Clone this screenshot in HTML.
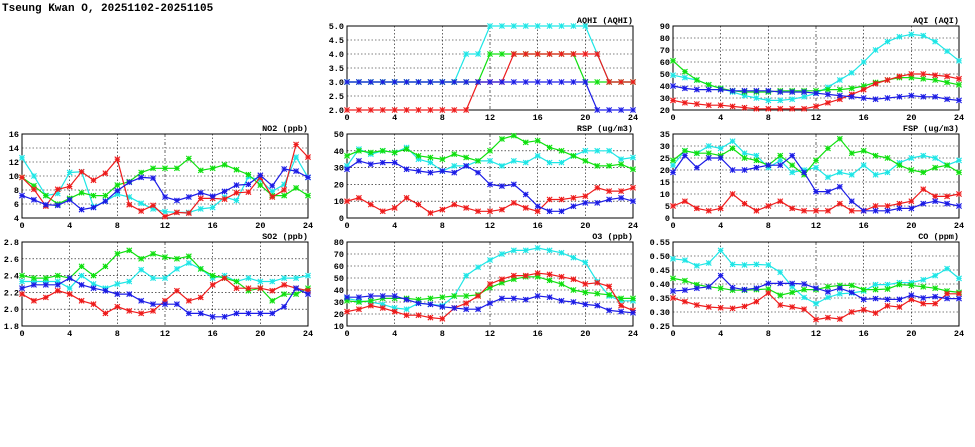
<!DOCTYPE html>
<html><head><meta charset="utf-8"><style>
html,body{margin:0;padding:0;background:#fff;width:975px;height:447px;overflow:hidden}
svg text{font-family:"Liberation Mono","DejaVu Sans Mono",monospace;font-weight:bold;fill:#000}
</style></head><body>
<svg id="s" width="975" height="447" xmlns="http://www.w3.org/2000/svg">
<text x="2" y="11" font-size="11">Tseung Kwan O, 20251102-20251105</text>
</svg>
<script>
const C={c:"#1ee6e6",g:"#10e010",r:"#ee1c1c",b:"#1c1ce6"};
const P=[
{t:"AQHI (AQHI)",x:347,y:26,min:2,max:5,step:.5,dec:1,d:{
c:[3,3,3,3,3,3,3,3,3,3,4,4,5,5,5,5,5,5,5,5,5,4,3,3,3],
g:[3,3,3,3,3,3,3,3,3,3,3,3,4,4,4,4,4,4,4,4,3,3,3,3,3],
r:[2,2,2,2,2,2,2,2,2,2,2,3,3,3,4,4,4,4,4,4,4,4,3,3,3],
b:[3,3,3,3,3,3,3,3,3,3,3,3,3,3,3,3,3,3,3,3,3,2,2,2,2]}},
{t:"AQI (AQI)",x:673,y:26,min:20,max:90,step:10,dec:0,d:{
c:[49,47,45,41,38,35,32,30,28,28,29,31,34,39,45,51,60,70,77,81,83,82,77,69,61],
g:[61,52,45,41,38,36,35,35,35,36,36,36,36,37,37,38,40,43,45,47,47,46,45,43,41],
r:[28,26,25,24,24,23,22,21,21,21,21,21,23,26,29,33,37,42,45,48,50,50,49,48,46],
b:[40,38,37,37,37,36,36,36,36,35,35,35,34,33,32,31,30,29,30,31,32,31,31,29,28]}},
{t:"NO2 (ppb)",x:22,y:134,min:4,max:16,step:2,dec:0,d:{
c:[12.6,10,7.2,7.5,10.5,10.6,5.6,6.4,7.4,7.0,6.1,5.3,4.9,4.8,4.8,5.3,5.5,7.0,6.5,9.9,9.4,7.8,8.8,12.7,9.8],
g:[9.8,8.6,7.2,6.0,6.8,7.6,7.2,7.2,8.7,9.2,10.5,11.1,11.1,11.1,12.5,10.8,11.1,11.6,10.9,10.2,8.7,7.2,7.2,8.3,7.2],
r:[9.8,8.1,5.7,8.1,8.5,10.6,9.4,10.4,12.4,5.9,5.0,5.8,4.2,4.8,4.7,6.8,6.8,6.7,7.6,7.7,9.8,7.0,8.0,14.5,12.7],
b:[7.2,6.6,5.9,5.8,6.6,5.2,5.5,6.4,7.9,9.1,9.8,9.7,7.0,6.5,7.0,7.6,7.1,7.8,8.7,8.8,10.1,8.6,11.0,10.7,9.8]}},
{t:"RSP (ug/m3)",x:347,y:134,min:0,max:50,step:10,dec:0,d:{
c:[31,41,38,40,39,42,35,33,28,31,31,34,34,31,34,33,37,33,33,37,40,40,40,35,36],
g:[37,40,39,40,39,41,37,36,35,38,36,34,40,47,49,45,46,42,40,37,34,31,31,32,29],
r:[10,12,8,4,6,12,8,3,5,8,6,4,4,5,9,6,4,11,11,12,13,18,16,16,18],
b:[29,34,32,33,33,29,28,27,28,27,31,27,20,19,20,14,7,4,4,7,9,9,11,12,10]}},
{t:"FSP (ug/m3)",x:673,y:134,min:0,max:35,step:5,dec:0,d:{
c:[22,28,27,30,29,32,27,26,21,24,19,20,21,17,19,18,22,18,19,23,25,26,25,22,24],
g:[24,28,27,27,26,29,25,24,22,26,22,18,24,29,33,27,28,26,25,22,20,19,21,22,19],
r:[5,7,4,3,4,10,6,3,5,7,4,3,3,3,6,3,3,5,5,6,7,12,9,9,10],
b:[19,26,21,25,25,20,20,21,22,22,26,19,11,11,13,7,3,3,3,4,4,6,7,6,5]}},
{t:"SO2 (ppb)",x:22,y:242,min:1.8,max:2.8,step:.2,dec:1,d:{
c:[2.33,2.33,2.33,2.33,2.25,2.40,2.30,2.25,2.30,2.33,2.47,2.37,2.37,2.48,2.55,2.48,2.37,2.40,2.33,2.37,2.33,2.33,2.37,2.37,2.40],
g:[2.40,2.37,2.37,2.40,2.37,2.51,2.40,2.51,2.66,2.70,2.60,2.66,2.62,2.60,2.63,2.48,2.40,2.37,2.33,2.22,2.25,2.10,2.18,2.18,2.25],
r:[2.18,2.10,2.14,2.22,2.18,2.10,2.06,1.95,2.03,1.98,1.95,1.98,2.10,2.22,2.10,2.14,2.29,2.37,2.25,2.25,2.25,2.22,2.29,2.25,2.22],
b:[2.25,2.29,2.29,2.29,2.37,2.29,2.25,2.22,2.18,2.18,2.10,2.06,2.06,2.06,1.95,1.95,1.91,1.91,1.95,1.95,1.95,1.95,2.03,2.25,2.18]}},
{t:"O3 (ppb)",x:347,y:242,min:10,max:80,step:10,dec:0,d:{
c:[33,31,30,28,25,24,29,28,27,35,52,59,65,70,73,73,75,73,71,67,63,47,35,31,31],
g:[31,30,31,33,33,33,32,33,34,35,35,36,42,46,49,51,51,48,45,40,38,37,36,33,33],
r:[22,24,27,25,22,19,19,17,16,25,29,35,45,49,52,52,54,53,51,49,45,46,43,27,23],
b:[34,34,35,35,35,32,29,28,26,25,24,24,29,33,33,32,35,34,31,30,28,27,23,22,21]}},
{t:"CO (ppm)",x:673,y:242,min:.25,max:.55,step:.05,dec:2,d:{
c:[.49,.485,.465,.475,.52,.47,.468,.47,.468,.442,.39,.352,.33,.352,.365,.368,.375,.398,.398,.405,.405,.415,.43,.455,.42],
g:[.42,.412,.398,.39,.385,.378,.378,.38,.382,.36,.37,.38,.38,.39,.395,.395,.38,.38,.382,.398,.395,.39,.385,.375,.37],
r:[.35,.337,.325,.318,.315,.313,.32,.337,.368,.325,.318,.31,.273,.28,.275,.3,.308,.296,.322,.318,.345,.33,.33,.365,.365],
b:[.375,.378,.385,.39,.43,.387,.38,.385,.402,.402,.402,.4,.385,.372,.385,.37,.345,.348,.345,.345,.36,.35,.355,.348,.348]}}
];
const W=286,H=84;let h="";
for(const p of P){
 const X=i=>p.x+i*W/24, Y=v=>p.y+H-(v-p.min)/(p.max-p.min)*H;
 const n=Math.round((p.max-p.min)/p.step);
 for(let k=0;k<=n;k++){const v=p.min+k*p.step,y=Y(v);
  if(k>0&&k<n)h+=`<line x1="${p.x}" x2="${p.x+W}" y1="${y}" y2="${y}" stroke="#000" stroke-width=".6" stroke-dasharray="1.5,2"/>`;
  h+=`<text x="${p.x-3}" y="${y+3}" font-size="8.5" text-anchor="end">${v.toFixed(p.dec)}</text>`;}
 for(let i=0;i<=24;i+=4){const x=X(i);
  if(i>0&&i<24)h+=`<line x1="${x}" x2="${x}" y1="${p.y}" y2="${p.y+H}" stroke="#000" stroke-width=".6" stroke-dasharray="${i==12?'3,2,1,2':'1.5,2'}"/>`;
  h+=`<text x="${x}" y="${p.y+H+10}" font-size="8.5" text-anchor="middle">${i}</text>`;}
 h+=`<rect x="${p.x}" y="${p.y}" width="${W}" height="${H}" fill="none" stroke="#000" stroke-width="1"/>`;
 h+=`<text x="${p.x+W}" y="${p.y-3}" font-size="8.5" text-anchor="end">${p.t}</text>`;
 h+=`<g clip-path="none">`;
 for(const k of ["c","g","r","b"]){const a=p.d[k],col=C[k];
  h+=`<polyline fill="none" stroke="${col}" stroke-width="1.2" points="${a.map((v,i)=>X(i).toFixed(1)+","+Y(v).toFixed(1)).join(" ")}"/>`;
  a.forEach((v,i)=>{const x=X(i),y=Y(v),s=2.6;
   h+=`<path d="M${x-s} ${y-s}L${x+s} ${y+s}M${x-s} ${y+s}L${x+s} ${y-s}M${x-s} ${y}L${x+s} ${y}M${x} ${y-s}L${x} ${y+s}" stroke="${col}" stroke-width="1.1"/>`;});
 }
 h+=`</g>`;
}
document.getElementById("s").insertAdjacentHTML("beforeend",h);
</script>
</body></html>
